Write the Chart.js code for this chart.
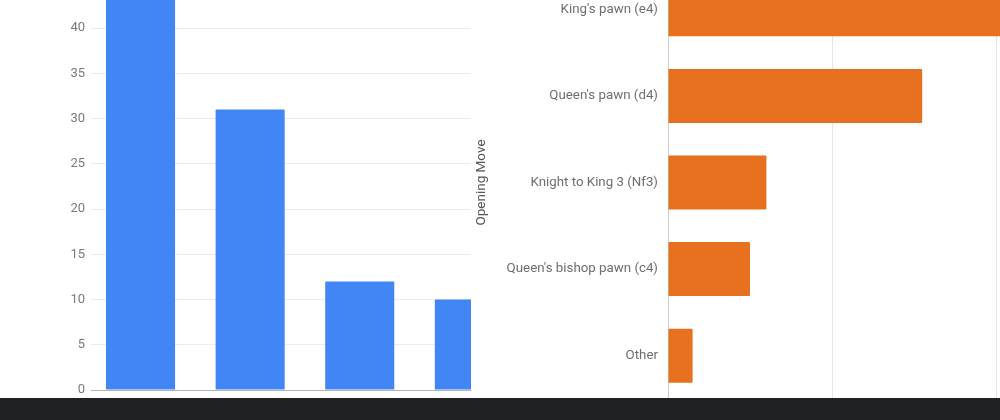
<!DOCTYPE html>
<html>
<head>
<meta charset="utf-8">
<script src="https://cdn.jsdelivr.net/npm/chart.js@4.4.0/dist/chart.umd.min.js"></script>
<style>
    html, body { margin: 0; padding: 0; background: #fff; }
    #stage { position: relative; width: 1000px; height: 420px; overflow: hidden; background: #fff; }
    #columnChart { position: absolute; left: 0; top: -37px; }
    #barChart { position: absolute; left: 471px; top: -54px; background: #fff; }
    #footer { position: absolute; left: 0; top: 398px; width: 1000px; height: 22px; background: #202124; }
</style>
</head>
<body>
<div id="stage">
    <canvas id="columnChart" width="639" height="447"></canvas>
    <canvas id="barChart" width="607" height="473"></canvas>
    <div id="footer"></div>
</div>
<script>
const openingMoves = ["King's pawn (e4)", "Queen's pawn (d4)", "Knight to King 3 (Nf3)", "Queen's bishop pawn (c4)", "Other"];
const columnValues = [44, 31, 12, 10, 3];
const barValues = [44, 31, 12, 10, 3];
const columnTicks = [0, 5, 10, 15, 20, 25, 30, 35, 40, 45];
const barTicks = [0, 20, 40];

const tickFont = { family: 'Roboto', size: 13 };

// linke Grafik: Säulen
new Chart(document.getElementById('columnChart'), {
    type: 'bar',
    data: {
        datasets: [{
            label: 'Opening Move',
            data: columnValues.map((v, i) => ({ x: i, y: v })),
            backgroundColor: '#4285f4',
            borderRadius: 1,
            categoryPercentage: 1,
            barPercentage: 0.63
        }]
    },
    options: {
        responsive: false,
        animation: false,
        layout: { padding: { top: 20, bottom: 20, left: 0, right: 0 } },
        plugins: { legend: { display: false }, tooltip: { enabled: false } },
        scales: {
            x: {
                type: 'linear',
                display: false,
                offset: false,
                min: -0.452,
                max: 4.548,
                afterBuildTicks: s => { s.ticks = openingMoves.map((_, i) => ({ value: i })); }
            },
            y: {
                min: 0,
                max: 45,
                afterBuildTicks: s => { s.ticks = columnTicks.map(v => ({ value: v })); },
                afterFit: s => { s.width = 91; },
                border: { display: false },
                grid: {
                    drawTicks: false,
                    color: ctx => ctx.tick && ctx.tick.value === 0 ? '#b4b4b4' : '#ebebeb'
                },
                ticks: { padding: 6, color: '#7a7a7a', font: tickFont }
            }
        }
    }
});

// rechte Grafik: Balken
new Chart(document.getElementById('barChart'), {
    type: 'bar',
    data: {
        labels: openingMoves,
        datasets: [{
            label: 'Opening Move',
            data: barValues,
            backgroundColor: '#e8711f',
            borderRadius: 1,
            categoryPercentage: 1,
            barPercentage: 0.624
        }]
    },
    options: {
        indexAxis: 'y',
        responsive: false,
        animation: false,
        layout: { padding: { top: 20, bottom: 20, left: 0, right: 0 } },
        plugins: { legend: { display: false }, tooltip: { enabled: false } },
        scales: {
            x: {
                min: 0,
                max: 50,
                afterBuildTicks: s => { s.ticks = barTicks.map(v => ({ value: v })); },
                border: { display: false },
                grid: {
                    drawTicks: false,
                    color: ctx => ctx.tick && ctx.tick.value === 0 ? '#cccccc' : '#e6e6e6'
                },
                ticks: { display: false }
            },
            y: {
                afterFit: s => { s.width = 197; },
                border: { display: false },
                grid: { display: false, drawTicks: false },
                ticks: { padding: 10, color: '#6e6e6e', font: { family: 'Roboto', size: 13.3 } },
                title: {
                    display: true,
                    text: 'Opening Move',
                    color: '#555',
                    padding: { top: 3, bottom: 4 },
                    font: { family: 'Roboto', size: 13.5 }
                }
            }
        }
    }
});
</script>
</body>
</html>
